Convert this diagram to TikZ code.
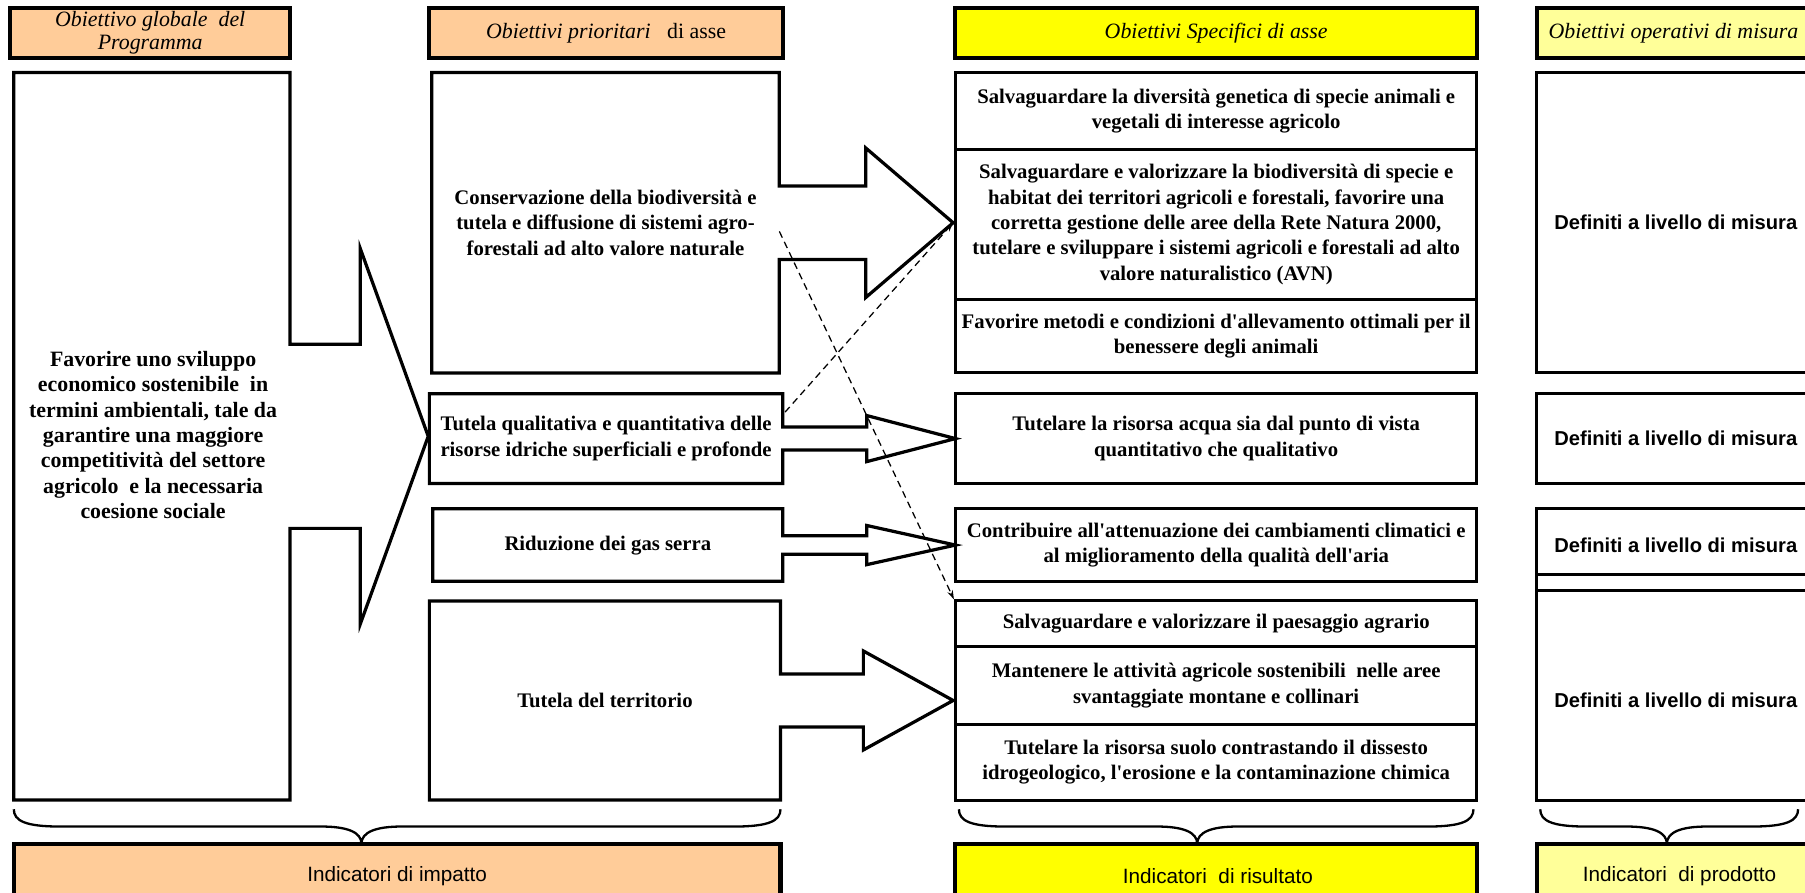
\documentclass[tikz,border=0pt]{standalone}
\usepackage{fontspec}
\newfontfamily\rmf{Liberation Serif}
\newfontfamily\sff{Liberation Sans}
\usetikzlibrary{arrows.meta}
\definecolor{peach}{HTML}{FFCC99}
\definecolor{yel}{HTML}{FFFF00}
\definecolor{lyel}{HTML}{FFFF99}
\newcommand\mybrace[3]{\draw[brc] (#1,703) .. controls (#1,713) and (#1+10,718) .. (#1+40,718) -- (#2-35,718) .. controls (#2-12,718) and (#2,723) .. (#2,733) .. controls (#2,723) and (#2+12,718) .. (#2+35,718) -- (#3-40,718) .. controls (#3-10,718) and (#3,713) .. (#3,703);}
\begin{document}
\begin{tikzpicture}[x=1pt,y=-1pt,
  hdr/.style={draw=black,line width=3.5pt,inner sep=0pt,minimum height=43pt,align=center,font=\rmf\fontsize{19}{20}\selectfont\itshape},
  outl/.style={draw=black,line width=2.8pt,line join=miter,fill=white},
  cbox/.style={draw=black,line width=2.6pt,inner sep=0pt,minimum width=453pt,align=center,font=\rmf\fontsize{18}{22}\selectfont\bfseries},
  dbox/.style={draw=black,line width=2.6pt,inner sep=0pt,minimum width=265pt},
  btxt/.style={align=center,font=\rmf\fontsize{18}{22}\selectfont\bfseries,inner sep=0pt},
  gtxt/.style={align=center,font=\rmf\fontsize{19}{22}\selectfont\bfseries,inner sep=0pt},
  stxt/.style={font=\sff\fontsize{17.5}{21}\selectfont\bfseries,inner sep=0pt,anchor=west},
  itxt/.style={font=\sff\fontsize{18}{21}\selectfont,inner sep=0pt},
  botbox/.style={draw=black,line width=3.5pt,minimum height=56pt,inner sep=0pt},
  dsh/.style={draw=black,line width=1.1pt,dash pattern=on 6pt off 4pt},
  brc/.style={draw=black,line width=2pt},
]
\useasboundingbox (0,0) rectangle (1568,775);
% headers
\node[hdr,fill=peach,minimum width=243pt] (h1) at (130.5,28.5) {Obiettivo globale\ \ del\\Programma};
\node[hdr,fill=peach,minimum width=307pt] (h2) at (526.5,28.5) {Obiettivi prioritari\ \ \ \upshape di asse};
\node[hdr,fill=yel,minimum width=453pt] (h3) at (1056.5,28.5) {Obiettivi Specifici di asse};
\node[hdr,fill=lyel,minimum width=265pt] (h4) at (1467.5,28.5) {};
\node[font=\rmf\fontsize{19}{20}\selectfont\itshape,anchor=west,inner sep=0pt] (h4t) at (1345,28.5) {Obiettivi operativi di misura};
% column 1
\draw[outl] (12,63) -- (252,63) -- (252,299) -- (313,299) -- (313,216) -- (372,379) -- (313,542) -- (313,459) -- (252,459) -- (252,695) -- (12,695) -- cycle;
\node[gtxt] (g) at (133,378) {Favorire uno sviluppo\\economico sostenibile\ \ in\\termini ambientali, tale da\\garantire una maggiore\\competitivit\`a del settore\\agricolo\ \ e la necessaria\\coesione sociale};
% column 2
\draw[outl] (375,63) -- (677,63) -- (677,161.5) -- (752,161.5) -- (752,128.5) -- (828,193.5) -- (752,258.5) -- (752,225.5) -- (677,225.5) -- (677,324) -- (375,324) -- cycle;
\node[btxt] (pa) at (526,193.5) {Conservazione della biodiversit\`a e\\tutela e diffusione di sistemi agro-\\forestali ad alto valore naturale};
\draw[outl] (373,342) -- (680,342) -- (680,371) -- (753,371) -- (753,361) -- (830,381) -- (753,401) -- (753,391) -- (680,391) -- (680,420) -- (373,420) -- cycle;
\node[btxt] (pb) at (526.5,381) {Tutela qualitativa e quantitativa delle\\risorse idriche superficiali e profonde};
\draw[outl] (376,442) -- (680,442) -- (680,465.5) -- (753,465.5) -- (753,456.5) -- (830,473.5) -- (753,490.5) -- (753,481.5) -- (680,481.5) -- (680,505) -- (376,505) -- cycle;
\node[btxt] (pc) at (528,474) {Riduzione dei gas serra};
\draw[outl] (373,522) -- (678,522) -- (678,585.5) -- (750,585.5) -- (750,565.5) -- (828,608.5) -- (750,651.5) -- (750,631.5) -- (678,631.5) -- (678,695) -- (373,695) -- cycle;
\node[btxt] (pd) at (525.5,608.5) {Tutela del territorio};
% column 3
\node[cbox,minimum height=67pt] (r1) at (1056.5,96.5) {Salvaguardare la diversit\`a genetica di specie animali e\\vegetali di interesse agricolo};
\node[cbox,minimum height=130pt] (r2) at (1056.5,195) {Salvaguardare e valorizzare la biodiversit\`a di specie e\\habitat dei territori agricoli e forestali, favorire una\\corretta gestione delle aree della Rete Natura 2000,\\tutelare e sviluppare i sistemi agricoli e forestali ad alto\\valore naturalistico (AVN)};
\node[cbox,minimum height=64pt] (r3) at (1056.5,292) {Favorire metodi e condizioni d'allevamento ottimali per il\\benessere degli animali};
\node[cbox,minimum height=78pt] (c2) at (1056.5,381) {Tutelare la risorsa acqua sia dal punto di vista\\quantitativo che qualitativo};
\node[cbox,minimum height=63pt] (c3) at (1056.5,473.5) {Contribuire all'attenuazione dei cambiamenti climatici e\\al miglioramento della qualit\`a dell'aria};
\node[cbox,minimum height=40pt] (r4) at (1056.5,542) {Salvaguardare e valorizzare il paesaggio agrario};
\node[cbox,minimum height=67pt] (r5) at (1056.5,595.5) {Mantenere le attivit\`a agricole sostenibili\ \ nelle aree\\svantaggiate montane e collinari};
\node[cbox,minimum height=66pt] (r6) at (1056.5,662) {Tutelare la risorsa suolo contrastando il dissesto\\idrogeologico, l'erosione e la contaminazione chimica};
% column 4
\node[dbox,minimum height=261pt] (d1) at (1467.5,193.5) {};
\node[dbox,minimum height=78pt] (d2) at (1467.5,381) {};
\node[dbox,minimum height=253pt] (d3) at (1467.5,568.5) {};
\draw[line width=2.6pt] (1335,499) -- (1600,499) (1335,513) -- (1600,513);
\node[stxt] (t1) at (1350,193.5) {Definiti a livello di misura};
\node[stxt] (t2) at (1350,381) {Definiti a livello di misura};
\node[stxt] (t3) at (1350,474) {Definiti a livello di misura};
\node[stxt] (t4) at (1350,608) {Definiti a livello di misura};
% dashed connectors
\coordinate (tipA) at (828,193.5);
\coordinate (dsB) at (682,358);
\coordinate (dsA) at (677,201);
\draw[dsh,-{Stealth[length=8pt,width=5pt]}] (dsB) -- (tipA);
\draw[dsh,-{Stealth[length=8pt,width=5pt]}] (dsA) -- (r4.north west);
% braces
\mybrace{12}{314}{678}
\mybrace{833}{1040}{1280}
\mybrace{1338}{1448}{1562}
% bottom boxes
\node[botbox,fill=peach,minimum width=666pt] (b1) at (345,761) {};
\node[itxt] (b1t) at (345,761) {Indicatori di impatto};
\node[botbox,fill=yel,minimum width=453pt] (b2) at (1056.5,761) {};
\node[itxt] (b2t) at (1058,761) {Indicatori\ \ di risultato};
\node[botbox,fill=lyel,minimum width=265pt] (b3) at (1467.5,761) {};
\node[itxt] (b3t) at (1459,761) {Indicatori\ \ di prodotto};
\end{tikzpicture}
\end{document}
